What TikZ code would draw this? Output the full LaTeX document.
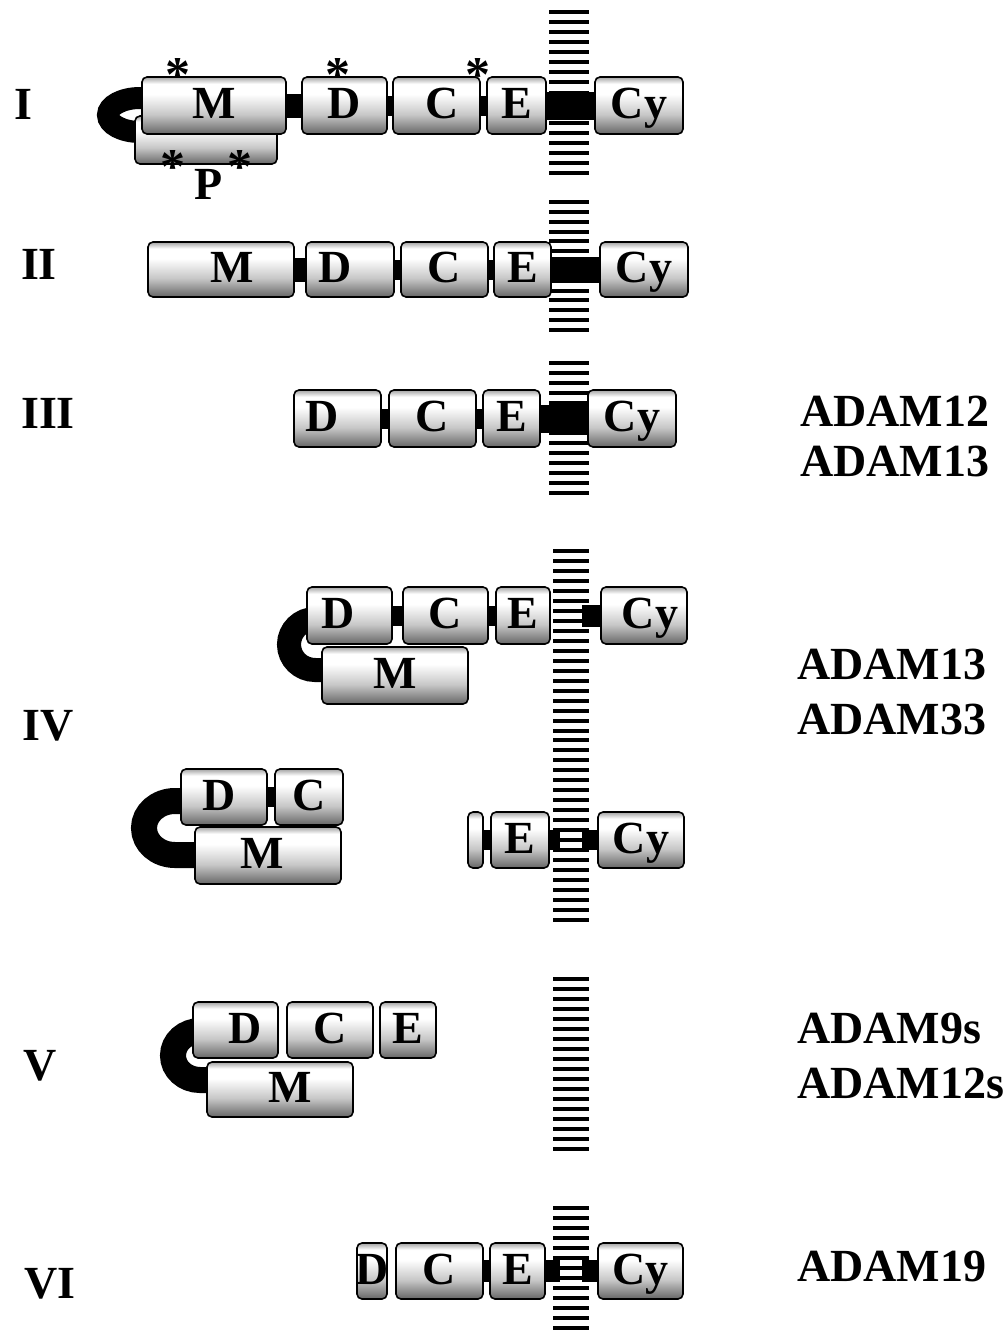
\documentclass[tikz,border=0pt]{standalone}
\usepackage{fontspec}
\setmainfont{Liberation Serif}
\usetikzlibrary{calc,backgrounds}

% cylinder-like grey shading of the domain boxes (25bp = bottom, 75bp = top)
\definecolor{cylbot}{gray}{0.40}
\definecolor{cylmid}{gray}{0.78}
\definecolor{cyltop}{gray}{0.64}
\definecolor{cylhi}{gray}{1}
\pgfdeclareverticalshading{cyl}{100bp}{color(0bp)=(cylbot); color(25bp)=(cylbot); color(42bp)=(cylmid); color(60bp)=(cylhi); color(69bp)=(cylhi); color(75bp)=(cyltop); color(100bp)=(cyltop)}

\tikzset{
  domtext/.style={inner sep=0pt, font=\fontsize{46}{50}\selectfont\bfseries, text height=31pt, text depth=5pt},
  dom/.style={draw, line width=1.6pt, rounded corners=5pt, shade, shading=cyl, domtext},
  lab/.style={inner sep=0pt, font=\fontsize{46}{50}\selectfont\bfseries, text height=31pt, text depth=0pt},
  ast/.style={inner sep=0pt, font=\fontsize{50}{54}\selectfont\bfseries, text height=22pt, text depth=0pt},
  tether/.style={draw=black, line width=#1},
}

% domain box from its corners: name, x1, y1, x2, y2, text
\newcommand\dombox[6]{\node[dom, minimum width={#4-#2}, minimum height={#5-#3}] (#1) at ({(#2+#4)/2},{(#3+#5)/2}) {#6};}
% black linker bar between two anchors, half height #3
\newcommand\lnk[3]{\fill ($#1+(-4,-#3)$) rectangle ($#2+(4,#3)$);}
% membrane stripes: x1, x2, first y, last y, number of gaps
\newcommand\membrane[5]{\foreach \k in {0,...,#5}{\fill (#1,{#3+(#4-#3)*\k/#5-2}) rectangle (#2,{#3+(#4-#3)*\k/#5+2});}}
% glycosylation mark
\newcommand\glyc{\raisebox{-12.7pt}{*}}

\begin{document}
\begin{tikzpicture}[x=1pt,y=-1pt]
\useasboundingbox (0,0) rectangle (1003,1330);

% ---------- row I ----------
\dombox{P1}{135}{116}{277}{164}{}
\dombox{M1}{142}{77}{286}{134}{M}
\dombox{D1}{302}{77}{387}{134}{D}
\dombox{C1}{393}{77}{480}{134}{\hspace*{12pt}C}
\dombox{E1}{487}{77}{546}{134}{E}
\dombox{Cy1}{595}{77}{683}{134}{Cy}
\node[ast] (a1) at (178,68) {\glyc};
\node[ast] (a2) at (338,68) {\glyc};
\node[ast] (a3) at (478,68) {\glyc};
\node[ast] (a4) at (173,160) {\glyc};
\node[ast] (a5) at (240,160) {\glyc};
\node[lab] (Plab) at (209,184) {P};

% ---------- row II ----------
\dombox{M2}{148}{242}{294}{297}{\hspace*{22pt}M}
\dombox{D2}{306}{242}{394}{297}{D\hspace*{30pt}}
\dombox{C2}{401}{242}{488}{297}{C}
\dombox{E2}{494}{242}{551}{297}{E}
\dombox{Cy2}{600}{242}{688}{297}{Cy}

% ---------- row III ----------
\dombox{D3}{294}{390}{381}{447}{D\hspace*{30pt}}
\dombox{C3}{389}{390}{476}{447}{C}
\dombox{E3}{483}{390}{540}{447}{E}
\dombox{Cy3}{588}{390}{676}{447}{Cy}

% ---------- row IV, upper ----------
\dombox{M4}{322}{647}{468}{704}{M}
\dombox{D4}{307}{587}{392}{644}{D\hspace*{22pt}}
\dombox{C4}{403}{587}{488}{644}{C}
\dombox{E4}{496}{587}{550}{644}{E}
\dombox{Cy4}{601}{587}{687}{644}{\hspace*{12pt}Cy}
\coordinate (m4r) at (586,615.5);

% ---------- row IV, lower ----------
\dombox{M5}{195}{827}{341}{884}{M\hspace*{12pt}}
\dombox{D5}{181}{769}{267}{825}{D\hspace*{10pt}}
\dombox{C5}{275}{769}{343}{825}{C}
\dombox{S5}{468}{812}{483}{868}{}
\dombox{E5}{491}{812}{549}{868}{E}
\dombox{Cy5}{598}{812}{684}{868}{Cy}
\coordinate (m5l) at (556,840);
\coordinate (m5r) at (586,840);

% ---------- row V ----------
\dombox{M6}{207}{1062}{353}{1117}{\hspace*{20pt}M}
\dombox{D6}{193}{1002}{278}{1058}{\hspace*{20pt}D}
\dombox{C6}{287}{1002}{373}{1058}{C}
\dombox{E6}{380}{1002}{436}{1058}{E}

% ---------- row VI ----------
\node[dom, minimum width=30, minimum height=56,
      path picture={\node[domtext] at (path picture bounding box.center) {D};}] (D7) at (372,1271) {};
\dombox{C7}{396}{1243}{483}{1299}{C}
\dombox{E7}{490}{1243}{545}{1299}{E}
\dombox{Cy7}{598}{1243}{683}{1299}{Cy}
\coordinate (m7l) at (556,1271);
\coordinate (m7r) at (586,1271);

% ---------- membranes, tethers and linkers ----------
\begin{scope}[on background layer]
  \membrane{549}{589}{12}{173}{16}
  \membrane{549}{589}{202}{330}{13}
  \membrane{549}{589}{363}{493}{13}
  \membrane{553}{589}{551}{920}{37}
  \membrane{553}{589}{979}{1149}{17}
  \membrane{553}{589}{1208}{1338}{13}

  \draw[tether=22pt] (150,98) -- (140,98) arc[start angle=90, end angle=270, x radius=32pt, y radius=17pt] -- (150,132);
  \draw[tether=24pt] (330,619) -- (315,619) arc[start angle=90, end angle=270, x radius=26pt, y radius=25.5pt] -- (335,670);
  \draw[tether=26pt] (195,801) -- (175,801) arc[start angle=90, end angle=270, x radius=31pt, y radius=27pt] -- (210,855);
  \draw[tether=26pt] (215,1031) -- (200,1031) arc[start angle=90, end angle=270, x radius=27pt, y radius=24.5pt] -- (225,1080);

  \lnk{(M1.east)}{(D1.west)}{12}
  \lnk{(D1.east)}{(C1.west)}{10}
  \lnk{(C1.east)}{(E1.west)}{10}
  \lnk{(E1.east)}{(Cy1.west)}{14}

  \lnk{(M2.east)}{(D2.west)}{12}
  \lnk{(D2.east)}{(C2.west)}{10}
  \lnk{(C2.east)}{(E2.west)}{10}
  \lnk{(E2.east)}{(Cy2.west)}{13}

  \lnk{(D3.east)}{(C3.west)}{10}
  \lnk{(C3.east)}{(E3.west)}{10}
  \lnk{(E3.east)}{(Cy3.west)}{14}

  \lnk{(D4.east)}{(C4.west)}{10}
  \lnk{(C4.east)}{(E4.west)}{10}
  \lnk{(m4r)}{(Cy4.west)}{11}

  \lnk{(D5.east)}{(C5.west)}{10}
  \lnk{(S5.east)}{(E5.west)}{10}
  \lnk{(E5.east)}{(m5l)}{10}
  \lnk{(m5r)}{(Cy5.west)}{10}

  \lnk{(C7.east)}{(E7.west)}{11}
  \lnk{(E7.east)}{(m7l)}{11}
  \lnk{(m7r)}{(Cy7.west)}{11}
\end{scope}

% ---------- class numerals ----------
\node[lab] (rI)   at (23,104)  {I};
\node[lab] (rII)  at (39,264)  {II};
\node[lab] (rIII) at (48,413)  {III};
\node[lab] (rIV)  at (48,725)  {IV};
\node[lab] (rV)   at (40,1065) {V};
\node[lab] (rVI)  at (50,1283) {VI};

% ---------- family members ----------
\node[lab, anchor=west] (n1) at (800,411)  {ADAM12};
\node[lab, anchor=west] (n2) at (800,461)  {ADAM13};
\node[lab, anchor=west] (n3) at (797,664)  {ADAM13};
\node[lab, anchor=west] (n4) at (797,719)  {ADAM33};
\node[lab, anchor=west] (n5) at (797,1028) {ADAM9s};
\node[lab, anchor=west] (n6) at (797,1083) {ADAM12s};
\node[lab, anchor=west] (n7) at (797,1266) {ADAM19};
\end{tikzpicture}
\end{document}
